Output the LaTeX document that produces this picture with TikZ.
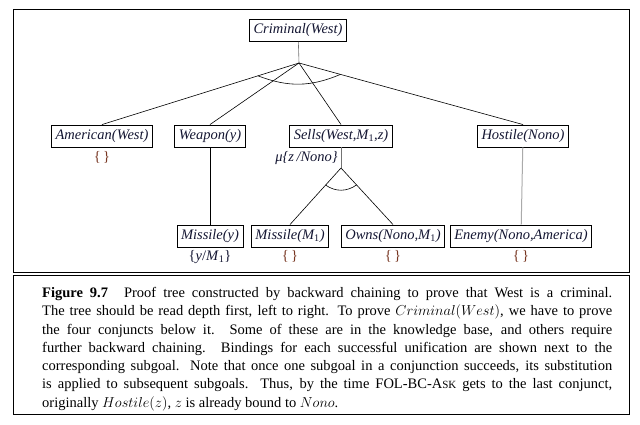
\documentclass[tikz,border=0pt]{standalone}
\usepackage{fontspec}
\setmainfont{Liberation Serif}
\usepackage{tikz}
\usetikzlibrary{positioning,calc}
\usepackage{xcolor}
\definecolor{ink}{RGB}{20,22,50}
\definecolor{bindc}{RGB}{120,55,35}
\definecolor{stem}{RGB}{115,115,115}
\definecolor{pale}{RGB}{170,170,170}
\newcommand{\Mone}{\textit{M}\textsubscript{\upshape 1}}
\tikzset{
  gbox/.style={rectangle, draw=black, line width=0.9pt, minimum height=22pt,
               inner xsep=4pt, inner ysep=0pt, text=ink,
               font=\fontsize{14.5}{16}\selectfont\itshape},
  link/.style={line width=0.6pt, black},
}

\begin{document}
\begin{tikzpicture}[x=1pt, y=-1pt,
    bind/.style={text=bindc, inner sep=1pt, font=\fontsize{14.5}{16}\selectfont},
    capt/.style={text width=570pt, align=justify, inner sep=0pt,
                 font=\fontsize{14.5}{18.3}\selectfont}
  ]
    \useasboundingbox (0,0) rectangle (640,425);
    \draw[line width=1pt] (13,10) rectangle (629,272);
    \draw[line width=1pt] (13,275) rectangle (629,414);
    \node[gbox] (crim)  at (298,30.5) {Criminal(West)};
    \coordinate (j0) at (299,63);
    \node[gbox] (amer)  at (102,136) {American(West)};
    \node[gbox] (weap)  at (210,136) {Weapon(y)};
    \node[gbox] (sells) at (341,136) {Sells(West,\Mone,z)};
    \node[gbox] (host)  at (523,136) {Hostile(Nono)};
    \coordinate (j1) at (341,168);
    \node[gbox] (misy)  at (210,236) {Missile(y)};
    \node[gbox] (mism)  at (290,236) {Missile(\Mone)};
    \node[gbox] (owns)  at (393,236) {Owns(Nono,\Mone)};
    \node[gbox] (enemy) at (521,236) {Enemy(Nono,America)};
    \draw[link, stem] (crim)--(j0);
    \draw[link] (j0)--(amer.north); \draw[link] (j0)--(weap.north);
    \draw[link] (j0)--(sells.north); \draw[link] (j0)--(host.north);
    \draw[link] ($(j0)!43pt!(amer.north)$) to[bend right=22] ($(j0)!43pt!(host.north)$);
    \draw[link] (weap)--(misy);
    \draw[link, stem] (sells)--(j1);
    \draw[link] (j1)--(mism.north); \draw[link] (j1)--(owns.north);
    \draw[link] ($(j1)!23pt!(mism.north)$) to[bend right=35] ($(j1)!23pt!(owns.north)$);
    \draw[link, pale, line width=1pt] (host)--(enemy);
    \node[bind, below=2.5pt of amer] (bamer) {\{\,\}};
    \node[bind, text=ink, below=2pt of misy] (bmisy) {\{\textit{y}/\Mone\}};
    \node[bind, below=2pt of mism] (bmism) {\{\,\}};
    \node[bind, below=2pt of owns] (bowns) {\{\,\}};
    \node[bind, below=2pt of enemy] (benemy) {\{\,\}};
    \node[bind, text=ink, left=2pt, font=\fontsize{14.5}{16}\selectfont\itshape]
      (usub) at ($(sells.south)!0.5!(j1)$) {μ\{z\,/Nono\}};
    \node[capt, anchor=north west] (cap) at (42,287) {\parindent=0pt
      \textbf{Figure 9.7}\hspace{1.1em}Proof tree constructed by backward chaining to prove that West is a criminal.\linebreak
      The tree should be read depth first, left to right. To prove $Criminal(West)$, we have to prove\linebreak
      the four conjuncts below it.  Some of these are in the knowledge base, and others require\linebreak
      further backward chaining.  Bindings for each successful unification are shown next to the\linebreak
      corresponding subgoal. Note that once one subgoal in a conjunction succeeds, its substitution\linebreak
      is applied to subsequent subgoals. Thus, by the time FOL-BC-A{\fontsize{11}{12}\selectfont SK} gets to the last conjunct,\linebreak
      originally $Hostile(z)$, $z$ is already bound to $Nono$.};
  \end{tikzpicture}
\end{document}
